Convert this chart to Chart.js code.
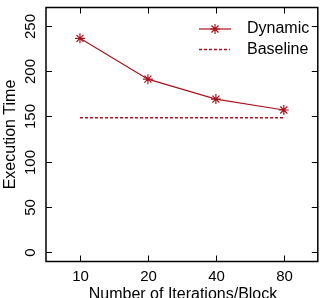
<!DOCTYPE html>
<html>
<head>
<meta charset="utf-8">
<script src="https://cdn.jsdelivr.net/npm/chart.js@4/dist/chart.umd.min.js"></script>
<style>
  html, body { margin: 0; padding: 0; background: #fff; }
  #wrap { width: 324px; height: 298px; }
</style>
</head>
<body>
<div id="wrap"><canvas id="chart" width="324" height="298"></canvas></div>
<script>
var categories = ["10", "20", "40", "80"];
var dynamicTimes = [236, 191, 169, 157];
var baselineTimes = [148.5, 148.5, 148.5, 148.5];
var yTicks = [0, 50, 100, 150, 200, 250];

var RED = "#a8141e";
var FONT = "Liberation Sans, Arial, sans-serif";

// frame, inward ticks, labels and legend drawn from the scales
var framePlugin = {
  id: "frame",
  afterDraw(chart) {
    var ctx = chart.ctx;
    var area = chart.chartArea;
    var xs = chart.scales.x, ys = chart.scales.y;
    ctx.save();
    ctx.strokeStyle = "#000";
    ctx.lineWidth = 1.5;
    ctx.strokeRect(area.left, area.top, area.right - area.left, area.bottom - area.top);

    ctx.lineWidth = 1;
    ctx.fillStyle = "#000";
    ctx.font = "15px " + FONT;
    for (let v of yTicks) {
      let y = Math.round(ys.getPixelForValue(v)) + 0.5;
      ctx.beginPath();
      ctx.moveTo(area.left, y); ctx.lineTo(area.left + 6, y);
      ctx.moveTo(area.right, y); ctx.lineTo(area.right - 6, y);
      ctx.stroke();
      ctx.save();
      ctx.translate(35, y);
      ctx.rotate(-Math.PI / 2);
      ctx.textAlign = "center";
      ctx.textBaseline = "alphabetic";
      ctx.fillText(String(v), 0, 0);
      ctx.restore();
    }
    categories.forEach(function(c, i) {
      let x = Math.round(xs.getPixelForValue(i)) + 0.5;
      ctx.beginPath();
      ctx.moveTo(x, area.bottom); ctx.lineTo(x, area.bottom - 6);
      ctx.moveTo(x, area.top); ctx.lineTo(x, area.top + 6);
      ctx.stroke();
      ctx.textAlign = "center";
      ctx.textBaseline = "alphabetic";
      ctx.fillText(c, x, 281);
    });

    // axis titles
    ctx.font = "16px " + FONT;
    ctx.textAlign = "center";
    ctx.fillText("Number of Iterations/Block", 183, 299);
    ctx.save();
    ctx.translate(15, 134.5);
    ctx.rotate(-Math.PI / 2);
    ctx.fillText("Execution Time", 0, 0);
    ctx.restore();

    // legend
    ctx.textAlign = "left";
    ctx.textBaseline = "middle";
    ctx.fillText("Dynamic", 247, 29);
    ctx.fillText("Baseline", 247, 49.5);
    ctx.strokeStyle = RED;
    ctx.lineWidth = 1.2;
    ctx.beginPath();
    ctx.moveTo(199, 29); ctx.lineTo(231, 29);
    ctx.stroke();
    Chart.helpers.drawPoint(ctx, { pointStyle: "star", radius: 5, borderWidth: 1.2 }, 215, 29);
    ctx.strokeStyle = RED;
    ctx.lineWidth = 1.5;
    ctx.setLineDash([3, 2]);
    ctx.beginPath();
    ctx.moveTo(199, 49.5); ctx.lineTo(230, 49.5);
    ctx.stroke();
    ctx.restore();
  }
};

new Chart(document.getElementById("chart"), {
  type: "line",
  data: {
    labels: categories,
    datasets: [
      {
        label: "Dynamic",
        data: dynamicTimes,
        borderColor: RED,
        backgroundColor: RED,
        borderWidth: 1.2,
        pointStyle: "star",
        pointRadius: 5,
        pointBorderWidth: 1.2,
        tension: 0,
        fill: false
      },
      {
        label: "Baseline",
        data: baselineTimes,
        borderColor: RED,
        borderWidth: 1.5,
        borderDash: [3, 2],
        pointRadius: 0,
        tension: 0,
        fill: false
      }
    ]
  },
  options: {
    responsive: false,
    animation: false,
    layout: { padding: { left: 46, right: 3, top: 7.5, bottom: 36.5 } },
    plugins: { legend: { display: false }, tooltip: { enabled: false } },
    scales: {
      x: { type: "category", offset: true, display: false },
      y: { min: -10, max: 270, display: false }
    }
  },
  plugins: [framePlugin]
});
</script>
</body>
</html>
